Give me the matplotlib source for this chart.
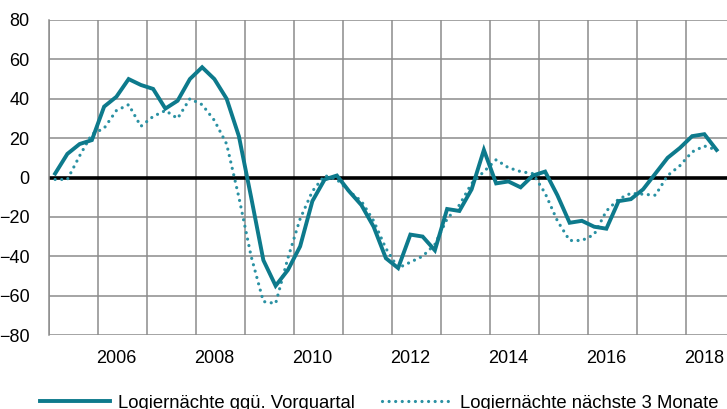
import numpy as np
import matplotlib
matplotlib.use("Agg")
import matplotlib.pyplot as plt
from matplotlib.lines import Line2D

# Quartalswerte 2005Q1 - 2018Q3
start_year = 2005
vorquartal = [2, 12, 17, 19, 36, 41, 50, 47, 45, 35, 39, 50, 56, 50, 40, 21,
              -10, -42, -55, -47, -35, -12, -1, 1, -7, -14, -25, -41, -46, -29,
              -30, -37, -16, -17, -6, 14, -3, -2, -5, 1, 3, -9, -23, -22, -25,
              -26, -12, -11, -6, 2, 10, 15, 21, 22, 14]
naechste_3m = [-1, -1, 11, 22, 25, 34, 37, 26, 31, 34, 30, 40, 37, 29, 17, -10,
               -40, -63, -64, -41, -21, -7, 1, -1, -7, -12, -22, -36, -46, -43,
               -40, -34, -21, -14, -3, 3, 9, 5, 3, 2, -8, -22, -32, -32, -29,
               -17, -11, -8, -8.5, -9, 1, 6, 13, 16, 14]
label_years = [2006, 2008, 2010, 2012, 2014, 2016, 2018]
y_ticks = [-80, -60, -40, -20, 0, 20, 40, 60, 80]

plt.rcParams["font.family"] = ["Liberation Sans", "DejaVu Sans"]
plt.rcParams["font.size"] = 13

solid_col = "#0d7a8c"
dot_col = "#2a91a3"
grid_col = "#8c8c8c"
dot_style = (0, (0.01, 2.05))

x = start_year + np.arange(len(vorquartal)) / 4 + 0.125

fig = plt.figure(figsize=(7.27, 4.09), dpi=100)
ax = fig.add_axes([49 / 727, 74 / 409, 686 / 727, 315 / 409])

ax.plot(x, naechste_3m, color=dot_col, lw=2.3, linestyle=dot_style,
        dash_capstyle="round", zorder=3)
ax.plot(x, vorquartal, color=solid_col, lw=2.8, solid_joinstyle="miter", zorder=4)
ax.axhline(0, color="black", lw=2.6, zorder=2)

ax.set_xlim(2005, 2019)
ax.set_ylim(-80, 80)
ax.set_yticks(y_ticks)
ax.set_xticks([y + 0.375 for y in label_years])
ax.set_xticklabels([str(y) for y in label_years])
ax.set_xticks(np.arange(2005, 2020), minor=True)
ax.grid(True, which="minor", axis="x", color=grid_col, lw=1.1)
ax.grid(True, which="major", axis="y", color=grid_col, lw=1.1)
ax.tick_params(which="both", length=0)
ax.tick_params(axis="y", pad=14)
ax.tick_params(axis="x", pad=11)
for s in ["top", "right", "bottom"]:
    ax.spines[s].set_visible(False)
ax.spines["left"].set_color(grid_col)
ax.spines["left"].set_linewidth(1.1)
ax.set_axisbelow(True)

handles = [
    Line2D([], [], color=solid_col, lw=2.8),
    Line2D([], [], color=dot_col, lw=2.3, linestyle=dot_style, dash_capstyle="round"),
]
fig.legend(handles, ["Logiernächte ggü. Vorquartal", "Logiernächte nächste 3 Monate"],
           loc="center left", bbox_to_anchor=(40 / 727, 6 / 409), ncol=2,
           frameon=False, borderpad=0, borderaxespad=0, handlelength=3.8,
           handletextpad=0.4, columnspacing=1.5, fontsize=13.3)

fig.savefig("out.png", dpi=100)
